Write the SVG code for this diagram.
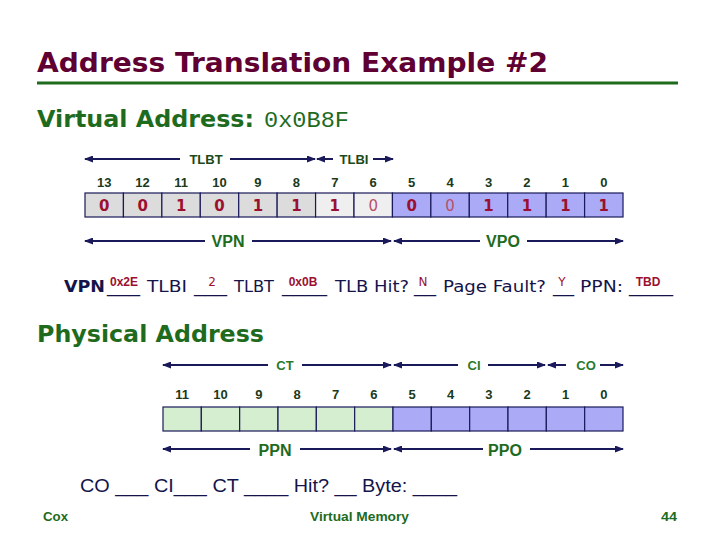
<svg xmlns="http://www.w3.org/2000/svg" width="720" height="540" viewBox="0 0 720 540">
<style>
.title{font-family:"DejaVu Sans",Verdana,sans-serif;font-weight:bold;font-size:27px;fill:#600032}
.head{font-family:"DejaVu Sans",Verdana,sans-serif;font-weight:bold;font-size:23px;fill:#1e6b1e}
.mono{font-family:"Liberation Mono","Courier New",monospace;font-size:22px;fill:#1e6b1e}
.bitn{font-family:"Liberation Sans",Arial,sans-serif;font-weight:bold;font-size:13px;fill:#1a3a1a;text-anchor:middle}
.val{font-family:"DejaVu Sans",Verdana,sans-serif;font-weight:bold;font-size:15px;fill:#9b1030;text-anchor:middle}
.valt{font-family:"DejaVu Sans",Verdana,sans-serif;font-weight:normal;font-size:15px;fill:#b8506a;text-anchor:middle}
.lbl{font-family:"Liberation Sans",Arial,sans-serif;font-weight:bold;font-size:13px;fill:#1a4a1a;text-anchor:middle}
.lblg{font-family:"Liberation Sans",Arial,sans-serif;font-weight:bold;font-size:13px;fill:#2a7a2a;text-anchor:middle}
.lblb{font-family:"Liberation Sans",Arial,sans-serif;font-weight:bold;font-size:16px;fill:#1e6b1e;text-anchor:middle}
.q{font-family:"DejaVu Sans",Verdana,sans-serif;font-size:16px;fill:#14144a}
.ans{font-family:"Liberation Sans",Arial,sans-serif;font-weight:bold;font-size:12px;fill:#9b1030;text-anchor:middle}
.ansn{font-family:"DejaVu Sans",Verdana,sans-serif;font-size:12px;fill:#9b1030;text-anchor:middle}
.q2{font-family:"Liberation Sans",Arial,sans-serif;font-size:18px;fill:#14144a}
.foot{font-family:"Liberation Sans",Arial,sans-serif;font-weight:bold;font-size:13px;fill:#1e6b1e}
.cg{fill:#dcdcdc;stroke:#1a1a5a;stroke-width:1.2}
.cl{fill:#efefef;stroke:#1a1a5a;stroke-width:1.2}
.cp{fill:#aaaaf6;stroke:#1a1a5a;stroke-width:1.2}
.cgr{fill:#d6eed0;stroke:#1a1a5a;stroke-width:1.2}
.arr{stroke:#1a1a5a;stroke-width:2;fill:none;marker-end:url(#ah)}
</style>
<defs>
<marker id="ah" markerUnits="userSpaceOnUse" markerWidth="9" markerHeight="7" refX="8" refY="3.5" orient="auto">
<path d="M0,0 L9,3.5 L0,7 z" fill="#1a1a5a"/>
</marker>
</defs>
<rect width="720" height="540" fill="#ffffff"/>

<g id="title">
<text class="title" x="37" y="72" textLength="511" lengthAdjust="spacingAndGlyphs">Address Translation Example #2</text>
<line x1="37" y1="83" x2="678" y2="83" stroke="#1e6b1e" stroke-width="3"/>
</g>

<g id="virtual-address-heading">
<text class="head" x="37" y="127" textLength="217" lengthAdjust="spacingAndGlyphs">Virtual Address:</text>
<text class="mono" x="264" y="127" textLength="85" lengthAdjust="spacingAndGlyphs">0x0B8F</text>
</g>

<g id="virtual-bits">
<rect class="cg" x="85" y="193" width="38.43" height="24"/>
<rect class="cg" x="123.43" y="193" width="38.43" height="24"/>
<rect class="cg" x="161.86" y="193" width="38.43" height="24"/>
<rect class="cg" x="200.29" y="193" width="38.43" height="24"/>
<rect class="cg" x="238.72" y="193" width="38.43" height="24"/>
<rect class="cg" x="277.15" y="193" width="38.43" height="24"/>
<rect class="cl" x="315.58" y="193" width="38.43" height="24"/>
<rect class="cl" x="354.01" y="193" width="38.43" height="24"/>
<rect class="cp" x="392.44" y="193" width="38.43" height="24"/>
<rect class="cp" x="430.87" y="193" width="38.43" height="24"/>
<rect class="cp" x="469.3" y="193" width="38.43" height="24"/>
<rect class="cp" x="507.73" y="193" width="38.43" height="24"/>
<rect class="cp" x="546.16" y="193" width="38.43" height="24"/>
<rect class="cp" x="584.59" y="193" width="38.43" height="24"/>
<text class="bitn" x="104.2" y="187">13</text>
<text class="bitn" x="142.6" y="187">12</text>
<text class="bitn" x="181.1" y="187">11</text>
<text class="bitn" x="219.5" y="187">10</text>
<text class="bitn" x="257.9" y="187">9</text>
<text class="bitn" x="296.4" y="187">8</text>
<text class="bitn" x="334.8" y="187">7</text>
<text class="bitn" x="373.2" y="187">6</text>
<text class="bitn" x="411.7" y="187">5</text>
<text class="bitn" x="450.1" y="187">4</text>
<text class="bitn" x="488.5" y="187">3</text>
<text class="bitn" x="526.9" y="187">2</text>
<text class="bitn" x="565.4" y="187">1</text>
<text class="bitn" x="603.8" y="187">0</text>
<text class="val" x="104.2" y="211">0</text>
<text class="val" x="142.6" y="211">0</text>
<text class="val" x="181.1" y="211">1</text>
<text class="val" x="219.5" y="211">0</text>
<text class="val" x="257.9" y="211">1</text>
<text class="val" x="296.4" y="211">1</text>
<text class="val" x="334.8" y="211">1</text>
<text class="valt" x="373.2" y="211">0</text>
<text class="val" x="411.7" y="211">0</text>
<text class="valt" x="450.1" y="211">0</text>
<text class="val" x="488.5" y="211">1</text>
<text class="val" x="526.9" y="211">1</text>
<text class="val" x="565.4" y="211">1</text>
<text class="val" x="603.8" y="211">1</text>
</g>

<g id="virtual-field-labels">
<text class="lbl" x="206" y="164">TLBT</text>
<text class="lbl" x="354" y="164">TLBI</text>
<text class="lblb" x="228" y="247">VPN</text>
<text class="lblb" x="503" y="247">VPO</text>
</g>

<g id="tlb-questions">
<text class="q" x="64" y="292" font-weight="bold" textLength="41" lengthAdjust="spacingAndGlyphs">VPN</text>
<text class="q" x="107" y="292" textLength="33" lengthAdjust="spacingAndGlyphs">___</text>
<text class="q" x="147" y="292" textLength="40" lengthAdjust="spacingAndGlyphs">TLBI</text>
<text class="q" x="194" y="292" textLength="33" lengthAdjust="spacingAndGlyphs">___</text>
<text class="q" x="234" y="292" textLength="40" lengthAdjust="spacingAndGlyphs">TLBT</text>
<text class="q" x="282" y="292" textLength="45" lengthAdjust="spacingAndGlyphs">____</text>
<text class="q" x="335" y="292" textLength="74" lengthAdjust="spacingAndGlyphs">TLB Hit?</text>
<text class="q" x="414" y="292" textLength="22" lengthAdjust="spacingAndGlyphs">__</text>
<text class="q" x="443" y="292" textLength="103" lengthAdjust="spacingAndGlyphs">Page Fault?</text>
<text class="q" x="553" y="292" textLength="21" lengthAdjust="spacingAndGlyphs">__</text>
<text class="q" x="580" y="292" textLength="43" lengthAdjust="spacingAndGlyphs">PPN:</text>
<text class="q" x="629" y="292" textLength="44" lengthAdjust="spacingAndGlyphs">____</text>
<text class="ans" x="124" y="286">0x2E</text>
<text class="ansn" x="212" y="286">2</text>
<text class="ans" x="303" y="286">0x0B</text>
<text class="ansn" x="423" y="286">N</text>
<text class="ansn" x="562" y="286">Y</text>
<text class="ans" x="648" y="286">TBD</text>
</g>

<g id="physical-address-heading">
<text class="head" x="37" y="342" textLength="227" lengthAdjust="spacingAndGlyphs">Physical Address</text>
</g>

<g id="physical-bits">
<rect class="cgr" x="163" y="407" width="38.33" height="24"/>
<rect class="cgr" x="201.33" y="407" width="38.33" height="24"/>
<rect class="cgr" x="239.67" y="407" width="38.33" height="24"/>
<rect class="cgr" x="278" y="407" width="38.33" height="24"/>
<rect class="cgr" x="316.33" y="407" width="38.33" height="24"/>
<rect class="cgr" x="354.67" y="407" width="38.33" height="24"/>
<rect class="cp" x="393" y="407" width="38.33" height="24"/>
<rect class="cp" x="431.33" y="407" width="38.33" height="24"/>
<rect class="cp" x="469.67" y="407" width="38.33" height="24"/>
<rect class="cp" x="508" y="407" width="38.33" height="24"/>
<rect class="cp" x="546.33" y="407" width="38.33" height="24"/>
<rect class="cp" x="584.67" y="407" width="38.33" height="24"/>
<text class="bitn" x="182.2" y="399">11</text>
<text class="bitn" x="220.5" y="399">10</text>
<text class="bitn" x="258.8" y="399">9</text>
<text class="bitn" x="297.2" y="399">8</text>
<text class="bitn" x="335.5" y="399">7</text>
<text class="bitn" x="373.8" y="399">6</text>
<text class="bitn" x="412.2" y="399">5</text>
<text class="bitn" x="450.5" y="399">4</text>
<text class="bitn" x="488.8" y="399">3</text>
<text class="bitn" x="527.2" y="399">2</text>
<text class="bitn" x="565.5" y="399">1</text>
<text class="bitn" x="603.8" y="399">0</text>
</g>

<g id="physical-field-labels">
<text class="lblg" x="285" y="370">CT</text>
<text class="lblg" x="474" y="370">CI</text>
<text class="lblg" x="586" y="370">CO</text>
<text class="lblb" x="275" y="456">PPN</text>
<text class="lblb" x="505" y="456">PPO</text>
</g>

<g id="connectors">
<path class="arr" d="M180,159 L85,159"/>
<path class="arr" d="M230,159 L315,159"/>
<path class="arr" d="M333,159 L317,159"/>
<path class="arr" d="M373,159 L393,159"/>
<path class="arr" d="M205,241 L85,241"/>
<path class="arr" d="M252,241 L391,241"/>
<path class="arr" d="M480,241 L394,241"/>
<path class="arr" d="M527,241 L623,241"/>
<path class="arr" d="M268,365 L163,365"/>
<path class="arr" d="M302,365 L391,365"/>
<path class="arr" d="M458,365 L394,365"/>
<path class="arr" d="M488,365 L545,365"/>
<path class="arr" d="M566,365 L548,365"/>
<path class="arr" d="M600,365 L623,365"/>
<path class="arr" d="M250,449 L163,449"/>
<path class="arr" d="M300,449 L391,449"/>
<path class="arr" d="M483,449 L394,449"/>
<path class="arr" d="M530,449 L623,449"/>
</g>

<g id="cache-questions">
<text class="q2" x="80" y="492" textLength="377" lengthAdjust="spacingAndGlyphs">CO ___ CI___ CT ____ Hit? __ Byte: ____</text>
</g>

<g id="footer">
<text class="foot" x="43" y="521" textLength="25" lengthAdjust="spacingAndGlyphs">Cox</text>
<text class="foot" x="310" y="521" textLength="99" lengthAdjust="spacingAndGlyphs">Virtual Memory</text>
<text class="foot" x="661" y="521" textLength="16" lengthAdjust="spacingAndGlyphs">44</text>
</g>
</svg>
